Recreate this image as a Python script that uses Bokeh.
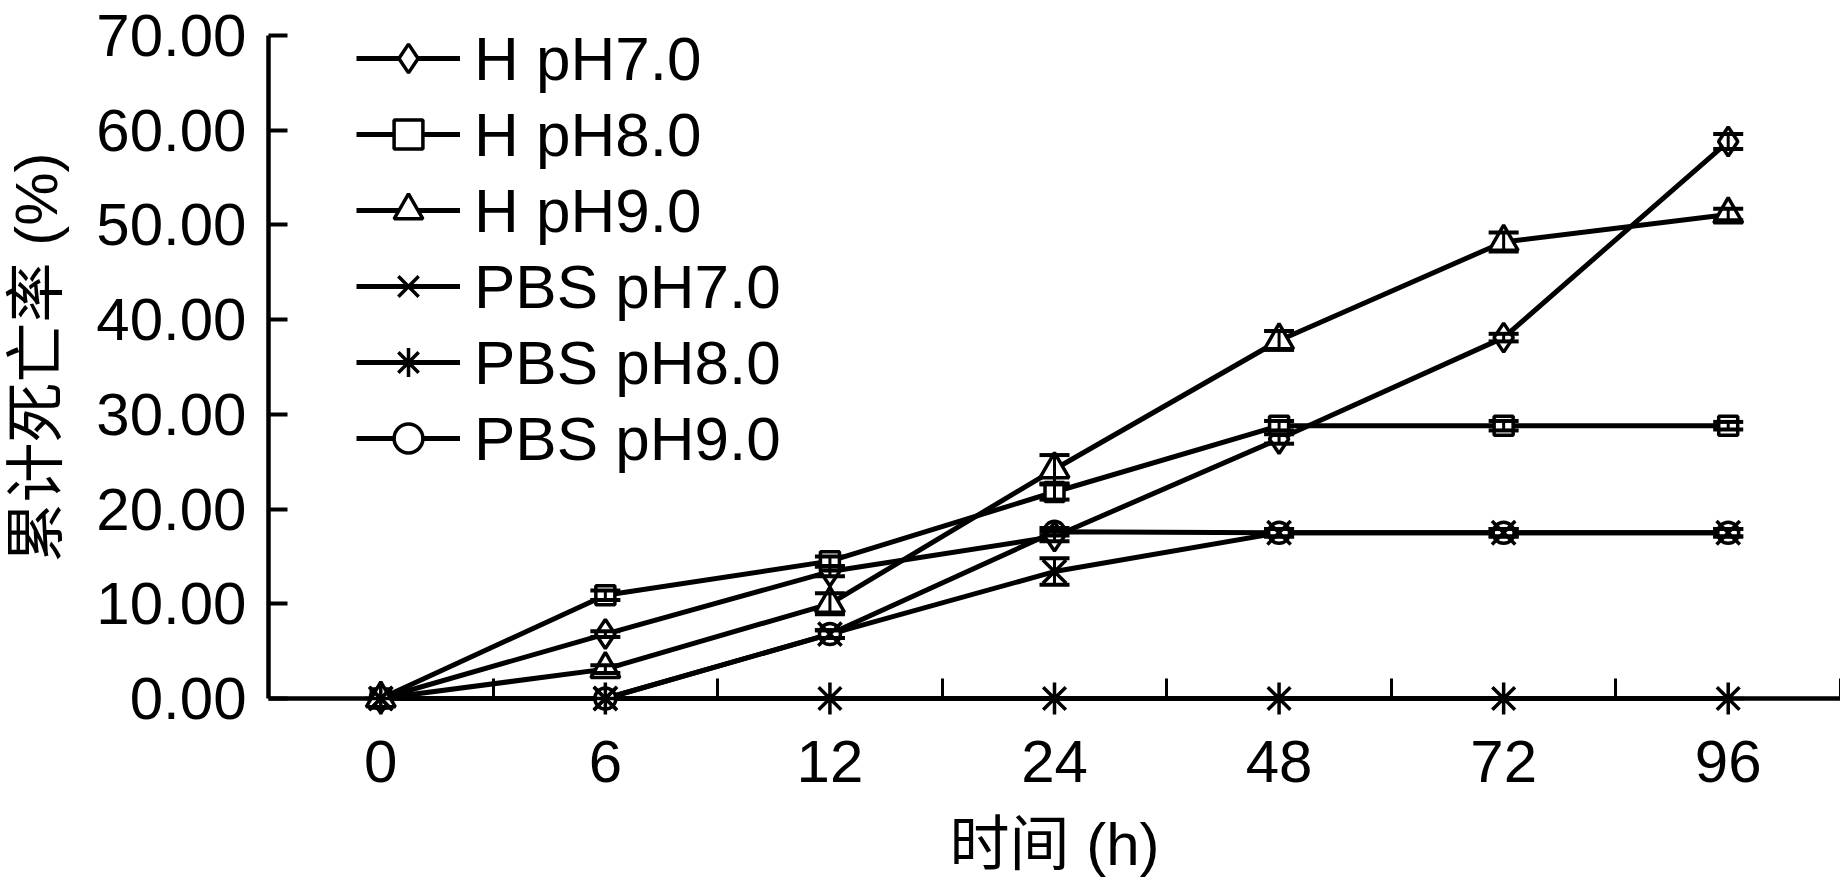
from bokeh.plotting import figure
from bokeh.models import (Range1d, FixedTicker, PrintfTickFormatter, ColumnDataSource,
                          Whisker, TeeHead, Legend)
from bokeh.embed import file_html
from bokeh.resources import INLINE

# ---- data ----
times = ["0", "6", "12", "24", "48", "72", "96"]

series_names = ["H pH7.0", "H pH8.0", "H pH9.0", "PBS pH7.0", "PBS pH8.0", "PBS pH9.0"]

h_ph7 = [0.0, 6.8, 13.4, 17.1, 27.4, 38.1, 58.8]
h_ph7_err = [0.0, 0.3, 0.5, 0.5, 0.5, 0.4, 0.8]

h_ph8 = [0.0, 10.9, 14.5, 21.8, 28.8, 28.8, 28.8]
h_ph8_err = [0.0, 0.5, 0.5, 0.8, 0.5, 0.5, 0.4]

h_ph9 = [0.0, 3.1, 10.0, 24.2, 37.8, 48.2, 51.1]
h_ph9_err = [0.0, 0.4, 1.1, 1.5, 1.0, 1.0, 0.6]

pbs_ph7 = [0.0, 0.0, 6.8, 13.4, 17.5, 17.5, 17.5]
pbs_ph7_err = [0.0, 0.0, 0.4, 1.4, 0.4, 0.4, 0.4]

pbs_ph8 = [0.0, 0.0, 0.0, 0.0, 0.0, 0.0, 0.0]
pbs_ph8_err = [0.0, 0.0, 0.0, 0.0, 0.0, 0.0, 0.0]

pbs_ph9 = [0.0, 0.0, 6.8, 17.6, 17.5, 17.5, 17.5]
pbs_ph9_err = [0.0, 0.0, 0.4, 0.4, 0.4, 0.4, 0.4]

y_ticks = [0, 10, 20, 30, 40, 50, 60, 70]

values = [h_ph7, h_ph8, h_ph9, pbs_ph7, pbs_ph8, pbs_ph9]
errors = [h_ph7_err, h_ph8_err, h_ph9_err, pbs_ph7_err, pbs_ph8_err, pbs_ph9_err]
markers = ["diamond", "square", "triangle", "x", "asterisk", "circle"]
marker_sizes = [29, 19, 29, 33, 32, 21]
open_fill = [True, True, True, False, False, True]
# order in which the markers are painted (circles below the crosses)
paint_order = [5, 0, 1, 2, 3, 4]

FONT = "Liberation Sans"
CJK_FONT = "Liberation Sans, Noto Sans CJK SC"
FS = "60px"

xpos = [i + 0.5 for i in range(len(times))]

p = figure(width=1840, height=880,
           x_range=Range1d(0, len(times)), y_range=Range1d(0, 72),
           output_backend="svg", toolbar_location=None,
           min_border_left=266, min_border_right=0,
           min_border_top=16, min_border_bottom=182)
p.outline_line_color = None
p.xgrid.visible = False
p.ygrid.visible = False
p.background_fill_color = "white"
p.border_fill_color = "white"

# ---- axes ----
xa = p.xaxis[0]
xa.ticker = FixedTicker(ticks=xpos, minor_ticks=list(range(1, len(times) + 1)))
xa.major_label_overrides = {x: t for x, t in zip(xpos, times)}
xa.major_tick_in = 0
xa.major_tick_out = 0
xa.minor_tick_in = 20
xa.minor_tick_out = 0
xa.minor_tick_line_width = 3
xa.minor_tick_line_color = "black"
xa.axis_line_width = 4.5
xa.axis_line_color = "black"
xa.major_label_text_font = FONT
xa.major_label_text_font_size = FS
xa.major_label_text_color = "black"
xa.major_label_standoff = 42
xa.axis_label = "时间 (h)"
xa.axis_label_text_font = CJK_FONT
xa.axis_label_text_font_size = FS
xa.axis_label_text_font_style = "normal"
xa.axis_label_text_color = "black"
xa.axis_label_standoff = 26

ya = p.yaxis[0]
ya.bounds = (0, 70)
ya.ticker = FixedTicker(ticks=y_ticks, minor_ticks=[])
ya.formatter = PrintfTickFormatter(format="%.2f")
ya.major_tick_in = 19
ya.major_tick_out = 0
ya.major_tick_line_width = 4
ya.major_tick_line_color = "black"
ya.minor_tick_in = 0
ya.minor_tick_out = 0
ya.axis_line_width = 4.5
ya.axis_line_color = "black"
ya.major_label_text_font = FONT
ya.major_label_text_font_size = FS
ya.major_label_text_color = "black"
ya.major_label_standoff = 22
ya.axis_label = "累计死亡率 (%)"
ya.axis_label_text_font = CJK_FONT
ya.axis_label_text_font_size = FS
ya.axis_label_text_font_style = "normal"
ya.axis_label_text_color = "black"
ya.axis_label_standoff = 23

# ---- series ----
sources = [ColumnDataSource(dict(x=xpos, y=vals)) for vals in values]
line_r = []
for src in sources:
    line_r.append(p.line("x", "y", source=src, line_color="black", line_width=5,
                         level="overlay"))

scatter_r = [None] * len(sources)
for i in paint_order:
    scatter_r[i] = p.scatter("x", "y", source=sources[i], marker=markers[i],
                             size=marker_sizes[i], line_color="black", line_width=3.5,
                             fill_color="white" if open_fill[i] else None,
                             level="overlay")

for vals, errs in zip(values, errors):
    ex = [x for x, e in zip(xpos, errs) if e > 0]
    eu = [v + e for v, e in zip(vals, errs) if e > 0]
    el = [v - e for v, e in zip(vals, errs) if e > 0]
    if ex:
        esrc = ColumnDataSource(dict(x=ex, upper=eu, lower=el))
        w = Whisker(source=esrc, base="x", upper="upper", lower="lower",
                    line_color="black", line_width=3, level="overlay",
                    upper_head=TeeHead(size=30, line_width=4, line_color="black"),
                    lower_head=TeeHead(size=30, line_width=4, line_color="black"))
        p.add_layout(w)

items = [(name, [line_r[i], scatter_r[i]]) for i, name in enumerate(series_names)]
legend = Legend(items=items, location=(88, 224), orientation="vertical",
                glyph_width=104, glyph_height=72, label_height=72, spacing=4,
                padding=0, margin=0, label_standoff=14,
                label_text_font=FONT, label_text_font_size="62px", label_text_color="black",
                border_line_color=None, background_fill_alpha=0)
p.add_layout(legend, "center")

open("out.html", "w").write(file_html(p, INLINE))
